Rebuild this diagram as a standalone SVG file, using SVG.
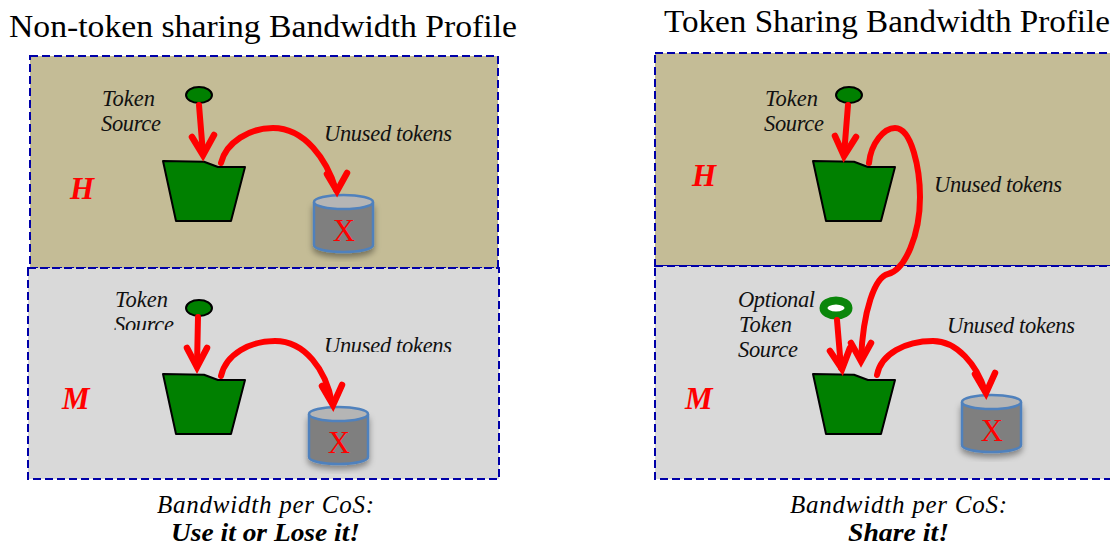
<svg xmlns="http://www.w3.org/2000/svg" width="1110" height="546" viewBox="0 0 1110 546">
<style>
.t{font-family:"Liberation Serif",serif;fill:#000}
.title{font-size:31px}
.lab{font-size:22.5px;font-style:italic;fill:#111}
.lev{font-size:31px;font-style:italic;font-weight:bold;fill:#f00}
.cap{font-size:25px;font-style:italic}
.capb{font-size:25px;font-style:italic;font-weight:bold}
.x{font-family:"Liberation Serif",serif;font-size:31px;fill:#f00;text-anchor:middle}
.reg{stroke:#0000a8;stroke-width:2;stroke-dasharray:8 4}
.h{fill:#c4bc96}.m{fill:#d9d9d9}
.src{fill:#008000;stroke:#000;stroke-width:2}
.ring{fill:#fff;stroke:#0a860a;stroke-width:8}
.bucket{fill:#008000;stroke:#000;stroke-width:2;stroke-linejoin:round}
.body{fill:#7f7f7f;stroke:#4f81bd;stroke-width:2.500}
.top{fill:#b5b5b5;stroke:#4f81bd;stroke-width:2.500}
.arr{fill:none;stroke:#f00;stroke-width:6;stroke-linecap:round;stroke-linejoin:miter}
.head{fill:none;stroke:#f00;stroke-width:6.500;stroke-linecap:round;stroke-linejoin:miter}
</style>
<defs>
<filter id="sh" x="-20%" y="-20%" width="140%" height="140%"><feDropShadow dx="0" dy="4" stdDeviation="3" flood-color="#000" flood-opacity=".4"/></filter>
<clipPath id="c1"><rect x="100" y="280" width="90" height="50"/></clipPath>
<clipPath id="c2"><rect x="320" y="330" width="140" height="22"/></clipPath>
<g id="cyl"><path class="body" d="M0 7V50C0 54 13 57 29.500 57S59 54 59 50V7" filter="url(#sh)"/><ellipse class="top" cx="29.500" cy="7" rx="29.500" ry="7"/></g>
<path id="bkt" class="bucket" d="M0 0L41 .7 55 6H82L68 60H13Z"/>
</defs>
<g id="regions">
<rect class="reg h" x="30" y="56" width="468" height="212"/>
<rect class="reg m" x="28" y="268" width="471" height="211"/>
<rect class="reg h" x="655" y="53" width="470" height="213"/>
<rect class="reg m" x="655" y="266" width="470" height="213"/>
</g>
<g id="titles">
<text class="t title" x="9" y="36.500" textLength="508" lengthAdjust="spacingAndGlyphs">Non-token sharing Bandwidth Profile</text>
<text class="t title" x="664" y="31.500" textLength="446" lengthAdjust="spacingAndGlyphs">Token Sharing Bandwidth Profile</text>
</g>
<g id="node-left-h">
<text class="t lev" x="70" y="199">H</text>
<ellipse class="src" cx="199" cy="95" rx="13" ry="8"/>
<text class="t lab" x="102" y="106" textLength="53">Token</text>
<text class="t lab" x="101" y="131" textLength="60">Source</text>
<use href="#bkt" x="163" y="161"/>
<text class="t lab" x="324" y="141" textLength="128">Unused tokens</text>
<use href="#cyl" x="314" y="195"/>
<text class="x" x="344" y="241">X</text>
</g>
<g id="node-left-m">
<text class="t lev" x="62" y="409">M</text>
<ellipse class="src" cx="199" cy="308" rx="13" ry="8"/>
<g clip-path="url(#c1)"><text class="t lab" x="115" y="307" textLength="53">Token</text>
<text class="t lab" x="114" y="332" textLength="60">Source</text></g>
<use href="#bkt" x="163" y="374"/>
<g clip-path="url(#c2)"><text class="t lab" x="324" y="353" textLength="128">Unused tokens</text></g>
<use href="#cyl" x="309" y="407"/>
<text class="x" x="339" y="453">X</text>
</g>
<g id="node-right-h">
<text class="t lev" x="692" y="186">H</text>
<ellipse class="src" cx="849" cy="95" rx="13" ry="8"/>
<text class="t lab" x="765" y="106" textLength="53">Token</text>
<text class="t lab" x="764" y="131" textLength="60">Source</text>
<use href="#bkt" x="813" y="161"/>
<text class="t lab" x="934" y="192" textLength="128">Unused tokens</text>
</g>
<g id="node-right-m">
<text class="t lev" x="685" y="409">M</text>
<ellipse class="ring" cx="836" cy="308" rx="12.500" ry="7.600"/>
<text class="t lab" x="738" y="307" textLength="77">Optional</text>
<text class="t lab" x="739" y="332" textLength="53">Token</text>
<text class="t lab" x="738" y="357" textLength="60">Source</text>
<use href="#bkt" x="813" y="374"/>
<text class="t lab" x="947" y="333" textLength="128">Unused tokens</text>
<use href="#cyl" x="962" y="395"/>
<text class="x" x="992" y="441">X</text>
</g>
<g id="captions">
<text class="t cap" x="157" y="513" textLength="217">Bandwidth per CoS:</text>
<text class="t capb" x="171" y="540.500" textLength="189" lengthAdjust="spacingAndGlyphs">Use it or Lose it!</text>
<text class="t cap" x="790" y="513" textLength="217">Bandwidth per CoS:</text>
<text class="t capb" x="848" y="540.500" textLength="101" lengthAdjust="spacingAndGlyphs">Share it!</text>
</g>
<g id="connectors">
<path class="arr" d="M199 105L203 154"/>
<path class="head" d="M192 137L203 155 214 135"/>
<path class="arr" d="M221 163C226 142 250 128 273 128C305 128 327 160 336 190"/>
<path class="head" d="M327 174L337 191 347 173"/>
<path class="arr" d="M198 317L197 366"/>
<path class="head" d="M187 348L197 367 207 348"/>
<path class="arr" d="M221 376C226 354 250 341 275 341C305 341 326 370 332 403"/>
<path class="head" d="M322 386L333 405 342 385"/>
<path class="arr" d="M848 105L844 155"/>
<path class="head" d="M835 136L844 156 856 137"/>
<path class="arr" d="M869 163C871 143 884 128 895 128C912 128 920 170 920 197C920 235 905 270 888 274C875 277 863 310 861 360"/>
<path class="head" d="M851 343L861 361 871 343"/>
<path class="arr" d="M837 320L841 368"/>
<path class="head" d="M830 351L842 369 850 348"/>
<path class="arr" d="M877 375C881 354 905 341 933 341C957 341 977 365 985 391"/>
<path class="head" d="M975 374L986 393 995 373"/>
</g>
</svg>
